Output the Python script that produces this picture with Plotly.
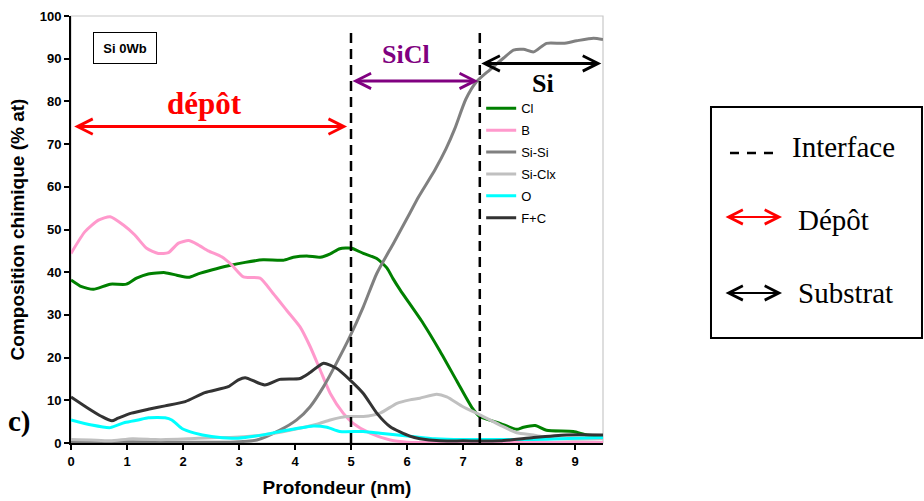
import plotly.graph_objects as go

# ---------------- data ----------------
cl_x = [0, 0.19, 0.40, 0.70, 0.99, 1.17, 1.38, 1.68, 1.89, 2.10, 2.27, 2.51, 2.81, 3.11, 3.43, 3.79, 3.97,
        4.21, 4.45, 4.63, 4.80, 5.01, 5.22, 5.46, 5.64, 5.75, 5.88, 6.29, 6.59, 6.89, 7.16, 7.30, 7.66, 7.96,
        8.08, 8.29, 8.49, 8.97, 9.21, 9.5]
cl_y = [38.2, 36.6, 36.0, 37.2, 37.2, 38.6, 39.6, 39.9, 39.3, 38.8, 39.6, 40.5, 41.5, 42.3, 42.9, 42.8, 43.5,
        43.8, 43.5, 44.3, 45.5, 45.6, 44.4, 43.2, 41.0, 38.5, 35.8, 28.0, 21.5, 14.5, 8.3, 6.2, 4.6, 3.2,
        3.7, 4.1, 3.0, 2.7, 1.9, 1.6]

b_x = [0, 0.25, 0.49, 0.70, 0.93, 1.14, 1.35, 1.56, 1.74, 1.92, 2.10, 2.27, 2.45, 2.69, 2.87, 3.08, 3.375,
       3.61, 3.85, 4.09, 4.27, 4.45, 4.63, 4.86, 5.04, 5.34, 5.70, 6.0, 7.0, 8.0, 9.0, 9.5]
b_y = [44.4, 49.5, 52.2, 53.0, 51.1, 48.7, 45.6, 44.4, 44.6, 46.8, 47.4, 46.4, 45.0, 43.6, 41.7, 38.9, 38.6,
       35.0, 31.1, 27.2, 22.6, 17.1, 11.6, 7.0, 4.6, 2.3, 0.7, 0.2, 0.1, 0.1, 0.1, 0.1]

sisi_x = [0, 1, 2, 2.84, 3.32, 3.73, 4.03, 4.27, 4.51, 4.74, 4.98, 5.22, 5.46, 5.76, 6.05, 6.20, 6.50, 6.70,
          6.85, 7.05, 7.24, 7.48, 7.72, 7.90, 8.08, 8.26, 8.49, 8.79, 9.03, 9.33, 9.5]
sisi_y = [0.3, 0.3, 0.2, 0.2, 0.7, 3.0, 5.4, 8.5, 13.2, 18.7, 24.9, 31.9, 39.7, 46.8, 53.8, 57.5, 64.0, 69.0,
          73.5, 80.5, 84.6, 87.4, 90.1, 92.0, 92.2, 91.6, 93.6, 93.6, 94.2, 94.8, 94.5]

sicl_x = [0, 0.35, 0.70, 1.10, 1.50, 1.70, 2.10, 2.60, 2.84, 3.43, 3.91, 4.39, 4.63, 4.92, 5.22, 5.52, 5.82,
          6.05, 6.23, 6.53, 6.71, 7.00, 7.30, 7.66, 7.96, 8.26, 8.55, 8.97, 9.5]
sicl_y = [0.8, 0.7, 0.5, 1.0, 0.8, 0.8, 1.0, 1.3, 1.3, 1.9, 3.0, 4.4, 5.4, 6.2, 6.2, 7.0, 9.3,
          10.1, 10.5, 11.4, 10.8, 8.5, 6.6, 4.2, 2.4, 1.9, 1.1, 0.9, 1.0]

o_x = [0, 0.37, 0.70, 0.96, 1.20, 1.38, 1.68, 1.80, 1.98, 2.21, 2.51, 2.87, 3.11, 3.43, 3.73, 4.03, 4.33,
       4.57, 4.80, 5.22, 5.52, 6.05, 6.50, 7.00, 7.50, 8.00, 8.50, 9.00, 9.5]
o_y = [5.4, 4.2, 3.6, 4.8, 5.4, 5.9, 5.9, 5.4, 3.4, 2.3, 1.5, 1.1, 1.3, 1.9, 2.7, 3.4, 4.0,
       3.7, 2.7, 2.7, 2.3, 1.6, 1.0, 0.8, 0.8, 0.8, 0.9, 1.1, 1.3]

fc_x = [0, 0.31, 0.55, 0.73, 0.84, 1.08, 1.38, 1.68, 2.04, 2.39, 2.81, 2.99, 3.11, 3.46, 3.73, 4.09, 4.27,
        4.51, 4.74, 4.98, 5.22, 5.46, 5.70, 6.05, 6.23, 6.59, 7.00, 7.66, 8.26, 8.85, 9.5]
fc_y = [10.8, 8.1, 6.2, 5.2, 5.8, 7.0, 7.9, 8.7, 9.7, 11.8, 13.2, 14.8, 15.3, 13.6, 14.9, 15.1, 16.5,
        18.7, 17.5, 14.8, 11.6, 7.0, 3.8, 1.6, 1.0, 0.5, 0.5, 0.5, 1.3, 1.9, 1.9]

series_names = ["Cl", "B", "Si-Si", "Si-Clx", "O", "F+C"]
series_colors = ["#008000", "#ff99cc", "#808080", "#c0c0c0", "#00ffff", "#333333"]
series_x = [cl_x, b_x, sisi_x, sicl_x, o_x, fc_x]
series_y = [cl_y, b_y, sisi_y, sicl_y, o_y, fc_y]

interfaces = [5.0, 7.3]
x_ticks = list(range(0, 10))
y_ticks = list(range(0, 101, 10))

SANS = "Liberation Sans, Arial, sans-serif"
SERIF = "Liberation Serif, Times New Roman, serif"

fig = go.Figure()
for name, col, xs, ys in zip(series_names, series_colors, series_x, series_y):
    fig.add_trace(go.Scatter(x=xs, y=ys, mode="lines", name=name, legendgroup=name,
                             line=dict(color=col, width=3, shape="spline", smoothing=0.6)))

shapes = []
# light grey plot frame (top/right)
shapes.append(dict(type="rect", xref="paper", yref="paper", x0=0, x1=1, y0=0, y1=1,
                   line=dict(color="#c8c8c8", width=1.2), layer="below"))
for xi in interfaces:
    shapes.append(dict(type="line", xref="x", yref="y", x0=xi, x1=xi, y0=0, y1=97,
                       line=dict(color="black", width=2.5, dash="10px,6px")))

# external key box
shapes.append(dict(type="rect", xref="paper", yref="paper", x0=1.203, x1=1.5996, y0=0.2459, y1=0.7869,
                   line=dict(color="black", width=2)))
shapes.append(dict(type="line", xref="paper", yref="paper", x0=1.2387, x1=1.3271, y0=0.6792, y1=0.6792,
                   line=dict(color="black", width=2.5, dash="9px,8px")))

ann = []
def arrow(x_head, x_tail, y, color, width=3, size=1.0):
    return dict(x=x_head, y=y, ax=x_tail, ay=y, xref="x", yref="y", axref="x", ayref="y",
                text="", showarrow=True, arrowhead=5, startarrowhead=5, arrowside="end+start",
                arrowwidth=width, arrowsize=size, startarrowsize=size, arrowcolor=color)

ann.append(arrow(4.93, 0.03, 74.1, "#ff0000"))
ann.append(arrow(7.27, 5.0, 84.8, "#800080"))
ann.append(arrow(9.47, 7.3, 88.9, "black"))

ann.append(dict(x=2.39, y=79.6, xref="x", yref="y", text="<b>dépôt</b>", showarrow=False,
                xanchor="center", yanchor="middle",
                font=dict(family=SERIF, size=31, color="#ff0000")))
ann.append(dict(x=5.99, y=90.9, xref="x", yref="y", text="<b>SiCl</b>", showarrow=False,
                xanchor="center", yanchor="middle",
                font=dict(family=SERIF, size=26, color="#800080")))
ann.append(dict(x=8.43, y=84.2, xref="x", yref="y", text="<b>Si</b>", showarrow=False,
                xanchor="center", yanchor="middle",
                font=dict(family=SERIF, size=26, color="black")))
ann.append(dict(x=0.964, y=92.5, xref="x", yref="y", text="<b>Si 0Wb</b>", showarrow=False,
                xanchor="center", yanchor="middle",
                font=dict(family=SANS, size=13, color="black"), bgcolor="white",
                bordercolor="black", borderwidth=1, borderpad=1, width=60, height=28))
ann.append(dict(x=-0.0959, y=0.0515, xref="paper", yref="paper", text="<b>c)</b>", showarrow=False,
                xanchor="center", yanchor="middle",
                font=dict(family=SERIF, size=29, color="black")))

# key box content
for yy, col in [(0.5293, "#ff0000"), (0.3513, "black")]:
    ann.append(dict(x=1.3365, y=yy, xref="paper", yref="paper", ax=-58, ay=0, text="", showarrow=True,
                    arrowhead=5, startarrowhead=5, arrowside="end+start", arrowwidth=2, arrowsize=1.4,
                    startarrowsize=1.4, arrowcolor=col))
for txt, xx, yy in [("Interface", 1.3515, 0.6932), ("Dépôt", 1.3628, 0.5222), ("Substrat", 1.3628, 0.3513)]:
    ann.append(dict(x=xx, y=yy, xref="paper", yref="paper", text=txt, showarrow=False,
                    xanchor="left", yanchor="middle",
                    font=dict(family=SERIF, size=29, color="black")))

axis_common = dict(showgrid=False, zeroline=False, showline=True, linecolor="black", linewidth=2,
                   ticks="outside", ticklen=5, tickwidth=1.5, tickcolor="black", automargin=False,
                   tickfont=dict(family=SANS, size=13, color="black", weight="bold"))

fig.update_layout(
    width=924, height=501,
    margin=dict(l=71, r=321, t=16, b=58, autoexpand=False),
    paper_bgcolor="white", plot_bgcolor="white",
    xaxis=dict(range=[0, 9.5], tickvals=x_ticks, **axis_common,
               title=dict(text="Profondeur (nm)", standoff=13,
                          font=dict(family=SANS, size=19, color="black", weight="bold"))),
    yaxis=dict(range=[0, 100], tickvals=y_ticks, **axis_common,
               title=dict(text="Composition chimique (% at)", standoff=10,
                          font=dict(family=SANS, size=19, color="black", weight="bold"))),
    legend=dict(x=0.771, y=0.819, xanchor="left", yanchor="top", bgcolor="rgba(0,0,0,0)",
                font=dict(family=SANS, size=13, color="black"), tracegroupgap=2),
    shapes=shapes, annotations=ann, showlegend=True,
)

fig.write_html("out.html", config={"displayModeBar": False},
               post_script="document.body.style.margin='0';document.body.style.overflow='hidden';")
